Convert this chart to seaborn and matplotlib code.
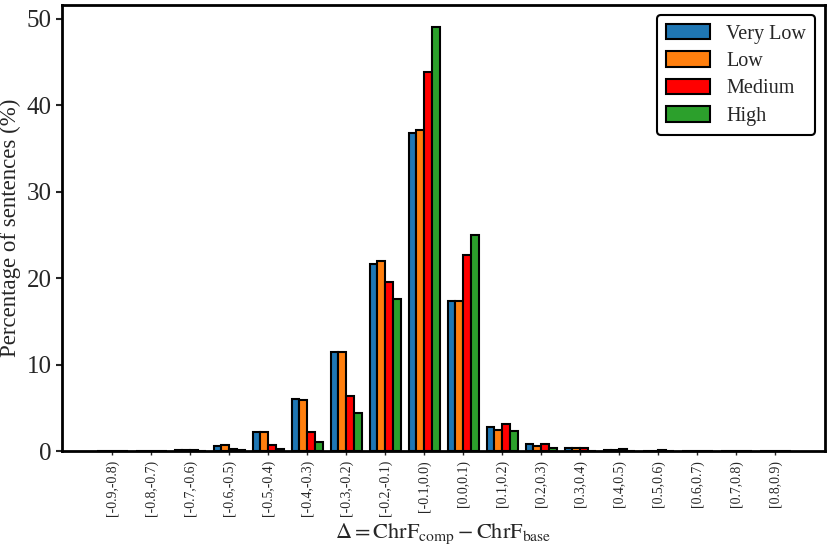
import numpy as np
import pandas as pd
import matplotlib
matplotlib.use("Agg")
import matplotlib.pyplot as plt
import seaborn as sns

bins = ["[-0.9,-0.8)", "[-0.8,-0.7)", "[-0.7,-0.6)", "[-0.6,-0.5)", "[-0.5,-0.4)",
        "[-0.4,-0.3)", "[-0.3,-0.2)", "[-0.2,-0.1)", "[-0.1,0.0)", "[0.0,0.1)",
        "[0.1,0.2)", "[0.2,0.3)", "[0.3,0.4)", "[0.4,0.5)", "[0.5,0.6)",
        "[0.6,0.7)", "[0.7,0.8)", "[0.8,0.9)"]
very_low = [0.02, 0.05, 0.15, 0.58, 2.2, 6.0, 11.5, 21.6, 36.8, 17.4, 2.8, 0.8, 0.3, 0.1, 0.05, 0.02, 0.01, 0.01]
low      = [0.02, 0.05, 0.15, 0.70, 2.2, 5.85, 11.5, 21.95, 37.1, 17.35, 2.4, 0.62, 0.3, 0.1, 0.05, 0.02, 0.01, 0.01]
medium   = [0.01, 0.03, 0.10, 0.27, 0.75, 2.15, 6.4, 19.5, 43.8, 22.7, 3.15, 0.8, 0.4, 0.2, 0.1, 0.04, 0.02, 0.01]
high     = [0.0, 0.02, 0.05, 0.10, 0.22, 1.0, 4.45, 17.55, 49.1, 25.0, 2.3, 0.37, 0.05, 0.03, 0.02, 0.01, 0.0, 0.0]
groups = ["Very Low", "Low", "Medium", "High"]
colors = ["#1f77b4", "#ff7f0e", "#ff0000", "#2ca02c"]

rows = []
for g, vals in zip(groups, [very_low, low, medium, high]):
    for b, v in zip(bins, vals):
        rows.append({"bin": b, "group": g, "pct": v})
df = pd.DataFrame(rows)

sns.set_style("ticks")
plt.rcParams["font.family"] = ["Liberation Serif", "DejaVu Serif"]
plt.rcParams["mathtext.fontset"] = "stix"

fig = plt.figure(figsize=(8.3, 5.5), dpi=100)
ax = fig.add_axes([0.075, 0.18, 0.919, 0.811])
sns.barplot(data=df, x="bin", y="pct", hue="group", order=bins, hue_order=groups,
            palette=colors, edgecolor="black", linewidth=1.5, width=0.8, gap=0,
            ax=ax, errorbar=None, saturation=1)

ax.set_xlim(-1.28, 18.28)
ax.set_ylim(0, 51.6)
ax.set_yticks([0, 10, 20, 30, 40, 50])
ax.tick_params(axis="y", labelsize=18, width=1.5, length=4)
ax.tick_params(axis="x", labelsize=10, rotation=90, width=1, length=3)
for s in ax.spines.values():
    s.set_linewidth(2)
    s.set_color("black")
    s.set_visible(True)
ax.set_ylabel("Percentage of sentences (%)", fontsize=16.5)
ax.set_xlabel(r"$\Delta = \mathrm{ChrF}_{\mathrm{comp}} - \mathrm{ChrF}_{\mathrm{base}}$", fontsize=16)

leg = ax.legend(loc="upper right", fontsize=14.5, frameon=True, fancybox=True,
                edgecolor="black", handlelength=2.2, handleheight=0.8, borderpad=0.45,
                labelspacing=0.38)
leg.get_frame().set_linewidth(1.5)
leg.get_frame().set_alpha(1)

fig.savefig("out.png", dpi=100)
